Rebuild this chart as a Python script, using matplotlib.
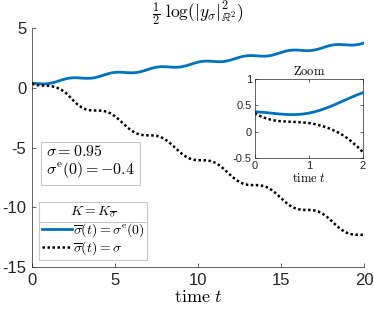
import numpy as np
import matplotlib
matplotlib.use("Agg")
import matplotlib.pyplot as plt

plt.rcParams["font.family"] = ["Liberation Sans", "DejaVu Sans"]
plt.rcParams["mathtext.fontset"] = "cm"
plt.rcParams["axes.unicode_minus"] = False

# ---------------------------------------------------------------------------
# Dati (passo 0.25 sul pannello principale)
# ---------------------------------------------------------------------------
t_main = np.arange(0, 20.001, 0.25)

y_blue = [0.381, 0.362, 0.336, 0.328, 0.355, 0.423, 0.524, 0.638, 0.741, 0.813,
          0.844, 0.839, 0.814, 0.793, 0.798, 0.841, 0.925, 1.034, 1.146, 1.238,
          1.294, 1.310, 1.294, 1.267, 1.254, 1.274, 1.334, 1.429, 1.543, 1.650,
          1.729, 1.768, 1.770, 1.747, 1.723, 1.721, 1.757, 1.834, 1.938, 2.051,
          2.150, 2.214, 2.237, 2.226, 2.200, 2.183, 2.194, 2.246, 2.336, 2.448,
          2.558, 2.644, 2.692, 2.700, 2.680, 2.654, 2.646, 2.674, 2.742, 2.843,
          2.957, 3.060, 3.132, 3.163, 3.158, 3.133, 3.111, 3.116, 3.160, 3.244,
          3.353, 3.464, 3.557, 3.613, 3.628, 3.612, 3.586, 3.573, 3.593, 3.653,
          3.749]

y_black = [0.350, 0.240, 0.200, 0.190, 0.168, 0.112, 0.012, -0.150, -0.380, -0.720,
           -1.080, -1.400, -1.650, -1.806, -1.878, -1.899, -1.901, -1.923, -1.999, -2.151,
           -2.382, -2.674, -2.998, -3.316, -3.588, -3.792, -3.916, -3.969, -3.979, -3.983,
           -4.019, -4.118, -4.296, -4.549, -4.856, -5.182, -5.489, -5.742, -5.920, -6.019,
           -6.055, -6.059, -6.069, -6.123, -6.246, -6.449, -6.722, -7.040, -7.363, -7.656,
           -7.887, -8.039, -8.115, -8.137, -8.139, -8.160, -8.233, -8.382, -8.610, -8.900,
           -9.224, -9.542, -9.818, -10.024, -10.151, -10.207, -10.218, -10.221, -10.255, -10.352,
           -10.526, -10.776, -11.081, -11.408, -11.716, -11.972, -12.153, -12.255, -12.293, -12.297,
           -12.307]

# zoom su [0, 2] (passo 0.1)
t_zoom = np.arange(0, 2.001, 0.1)
z_blue = [0.381, 0.375, 0.367, 0.356, 0.345, 0.336, 0.329, 0.327, 0.330, 0.339,
          0.355, 0.378, 0.407, 0.442, 0.481, 0.524, 0.570, 0.615, 0.660, 0.703,
          0.741]
z_black = [0.350, 0.300, 0.260, 0.230, 0.210, 0.200, 0.195, 0.190, 0.185, 0.178,
           0.168, 0.150, 0.125, 0.095, 0.058, 0.012, -0.042, -0.110, -0.190, -0.280,
           -0.380]

main_xticks = [0, 5, 10, 15, 20]
main_yticks = [-15, -10, -5, 0, 5]
zoom_xticks = [0, 1, 2]
zoom_yticks = [-0.5, 0, 0.5, 1]
zoom_yticklabels = ["-0.5", "0", "0.5", "1"]

BLUE = "#0072BD"
AX_COL = "#262626"
BOX_COL = "#c8c8c8"

# ---------------------------------------------------------------------------
# Figura
# ---------------------------------------------------------------------------
fig = plt.figure(figsize=(3.74, 3.12), dpi=100)
ax = fig.add_axes([0.0856, 0.144, 0.8877, 0.766])

l1, = ax.plot(t_main, y_blue, color=BLUE, lw=2.0)
l2, = ax.plot(t_main, y_black, color="black", lw=1.8, ls=(0, (1, 1)))

ax.set_xlim(0, 20)
ax.set_ylim(-15, 5)
ax.set_xticks(main_xticks)
ax.set_yticks(main_yticks)
for s in ["top", "right"]:
    ax.spines[s].set_visible(False)
for s in ["left", "bottom"]:
    ax.spines[s].set_color(AX_COL)
    ax.spines[s].set_linewidth(0.5)
ax.tick_params(direction="in", length=3, width=0.5, color=AX_COL,
               labelcolor=AX_COL, labelsize=12, pad=4)
ax.set_title(r"$\frac{1}{2}\ \log(|y_\sigma|^2_{\mathbb{R}^2})$", fontsize=12.5, pad=2)
ax.set_xlabel(r"$\mathrm{time}\ t$", fontsize=13, labelpad=1)

# riquadro parametri
ax.text(0.043, 0.515, r"$\sigma = 0.95$" + "\n" + r"$\sigma^{\mathrm{e}}(0) = -0.4$",
        transform=ax.transAxes, fontsize=11.5, va="top", ha="left", linespacing=1.1,
        bbox=dict(boxstyle="square,pad=0.3", fc="white", ec=BOX_COL, lw=0.8))

leg = ax.legend([l1, l2],
                [r"$\overline{\sigma}(t) = \sigma^{\mathrm{e}}(0)$",
                 r"$\overline{\sigma}(t) = \sigma$"],
                title=r"$K = K_{\overline{\sigma}}$",
                loc="lower left", bbox_to_anchor=(0.021, 0.029), borderaxespad=0,
                fontsize=10, title_fontsize=10, handlelength=2.15,
                handletextpad=0.1, borderpad=0.2, labelspacing=0.05,
                fancybox=False, framealpha=1, edgecolor=BOX_COL)
leg.get_frame().set_linewidth(0.8)
leg.set_zorder(5)

# linea sotto il titolo della legenda (stile MATLAB)
fig.canvas.draw()
fb = leg.get_frame().get_window_extent()
tb = leg.get_title().get_window_extent()
ysep = tb.y0 - 2
inv = ax.transAxes.inverted()
(x0, y0), (x1, _) = inv.transform([(fb.x0, ysep), (fb.x1, ysep)])
ax.plot([x0, x1], [y0, y0], transform=ax.transAxes, color=BOX_COL, lw=0.8,
        clip_on=False, zorder=6)

# ---------------------------------------------------------------------------
# Inset zoom
# ---------------------------------------------------------------------------
axz = fig.add_axes([0.681, 0.4926, 0.289, 0.254])
axz.plot(t_zoom, z_blue, color=BLUE, lw=2.0)
axz.plot(t_zoom, z_black, color="black", lw=1.8, ls=(0, (1, 1)))
axz.set_xlim(0, 2)
axz.set_ylim(-0.5, 1)
axz.set_xticks(zoom_xticks)
axz.set_yticks(zoom_yticks)
axz.set_yticklabels(zoom_yticklabels)
for s in axz.spines.values():
    s.set_color(AX_COL)
    s.set_linewidth(0.5)
axz.tick_params(direction="in", length=2, width=0.5, color=AX_COL,
                labelcolor=AX_COL, labelsize=8, pad=2, top=True, right=True)
axz.set_title(r"$\mathrm{Zoom}$", fontsize=9, pad=3)
axz.set_xlabel(r"$\mathrm{time}\ t$", fontsize=9, labelpad=1)

fig.savefig("out.png", dpi=100)
